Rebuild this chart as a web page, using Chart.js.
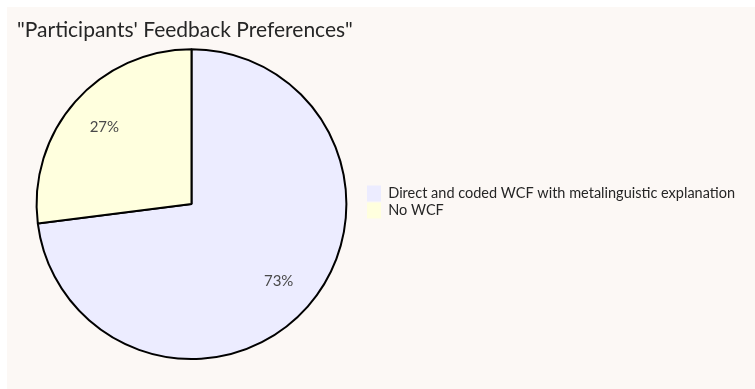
<!DOCTYPE html>
<html>
<head>
<meta charset="utf-8">
<script src="https://cdn.jsdelivr.net/npm/chart.js@4.4.0/dist/chart.umd.min.js"></script>
<style>
  html, body { margin: 0; padding: 0; background: #ffffff; }
  #wrap { position: absolute; left: 7px; top: 7px; width: 748px; height: 382px; background: #fcf8f5; }
</style>
</head>
<body>
<div id="wrap"><canvas id="c"></canvas></div>
<script>
const titleText = '"Participants\' Feedback Preferences"';
const labels = ['Direct and coded WCF with metalinguistic explanation', 'No WCF'];
const values = [73, 27];
const sliceColors = ['#ececff', '#ffffde'];
const fontFamily = 'Lato, "Open Sans", sans-serif';
const legendFontSize = 14.5;

// legend box should start right of the pie, so size the right padding from the text width
const mctx = document.createElement('canvas').getContext('2d');
mctx.font = legendFontSize + 'px ' + fontFamily;
const legendTextW = Math.max(...labels.map(l => mctx.measureText(l).width));
const legendW = 1 + 14 + legendFontSize / 2 + legendTextW + 10;
const padRight = Math.max(0, 748 - 359 - legendW);

// percentage text inside each slice, at 3/4 of the radius
const sliceLabels = {
  id: 'sliceLabels',
  afterDatasetsDraw(chart) {
    const ctx = chart.ctx;
    const meta = chart.getDatasetMeta(0);
    const total = values.reduce((a, b) => a + b, 0);
    ctx.save();
    ctx.font = '15px ' + fontFamily;
    ctx.fillStyle = '#4a4a4a';
    ctx.textAlign = 'center'; ctx.textBaseline = 'middle';
    meta.data.forEach((arc, i) => {
      const p = arc.getProps(['x', 'y', 'startAngle', 'endAngle', 'outerRadius'], true);
      const mid = (p.startAngle + p.endAngle) / 2;
      const r = p.outerRadius * 0.75;
      ctx.fillText(Math.round(values[i] / total * 100) + '%', p.x + Math.cos(mid) * r, p.y + Math.sin(mid) * r);
    });
    ctx.restore();
  }
};

new Chart(document.getElementById('c'), {
  type: 'pie',
  data: { labels, datasets: [{
    data: values, backgroundColor: sliceColors,
    borderColor: '#000', borderWidth: 2,
  }]},
  options: {
    responsive: true, maintainAspectRatio: false, animation: false,
    layout: { padding: { left: 10, right: padRight, top: 0, bottom: 29 } },
    plugins: {
      title: { display: true, text: titleText, align: 'start', color: '#262626',
        font: { family: fontFamily, size: 21, weight: 'normal' }, padding: { top: 11, bottom: 5 } },
      legend: { position: 'right', align: 'center', maxWidth: 420,
        title: { display: true, text: '', font: { size: 10, lineHeight: 1 }, padding: { top: 27, bottom: 0 } },
        labels: { boxWidth: 14, boxHeight: 16, padding: 1, color: '#262626',
          font: { family: fontFamily, size: legendFontSize },
          generateLabels: (chart) => Chart.overrides.pie.plugins.legend.labels.generateLabels(chart)
            .map(item => ({ ...item, lineWidth: 0, strokeStyle: 'transparent' })) } },
      tooltip: { enabled: false },
    },
  },
  plugins: [sliceLabels],
});
</script>
</body>
</html>
